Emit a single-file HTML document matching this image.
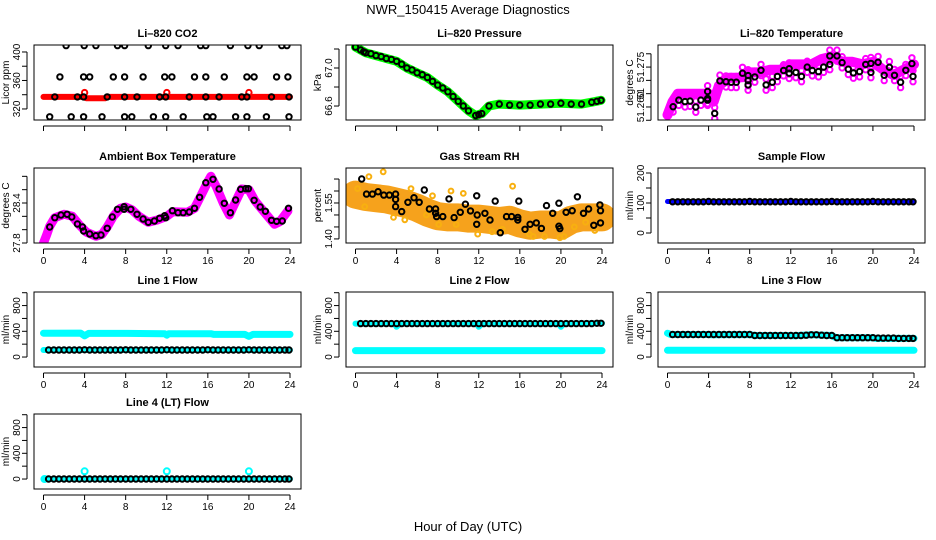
<!DOCTYPE html>
<html><head><meta charset="utf-8"><style>
html,body{margin:0;padding:0;background:#fff;}
svg{display:block;font-family:"Liberation Sans",sans-serif;}
</style></head><body>
<svg id="chart" width="936" height="540" viewBox="0 0 936 540" xmlns="http://www.w3.org/2000/svg">
<text x="468" y="14" text-anchor="middle" font-size="13">NWR_150415  Average Diagnostics</text>
<text x="468" y="531" text-anchor="middle" font-size="13">Hour of Day (UTC)</text>
</svg>
<script>
// ---------- data ----------
const flowHours = [0.5,1,1.5,2,2.5,3,3.5,4,4.5,5,5.5,6,6.5,7,7.5,8,8.5,9,9.5,10,10.5,11,11.5,12,12.5,13,13.5,14,14.5,15,15.5,16,16.5,17,17.5,18,18.5,19,19.5,20,20.5,21,21.5,22,22.5,23,23.5,23.9];
// CO2
const co2BandH = [0,3.8,4.2,6,6.3,24];
const co2BandV = [337,337,335,335,337,337];
const co2RedH = [4,12,20];
const co2RedV = [343,343,343];
const co2BlkH = [2.2,3.96,5.1,7.2,7.9,10.2,11.9,13.1,15.3,15.8,18.2,19.9,21,23.2,23.7, 1.6,3.9,4.5,6.8,7.9,9.7,11.8,12.5,14.7,15.8,17.6,19.8,20.5,22.7,23.8, 1.1,3.3,3.9,6.2,7.9,9.1,11.3,11.9,14.2,15.8,17.1,19.3,19.8,22.2,23.9, 0.6,2.7,3.9,5.7,7.9,8.6,10.7,11.9,13.6,15.9,16.5,18.7,19.8,21.7,23.9];
const co2BlkV = [409,409,409,409,409,409,409,409,409,409,409,409,409,409,409, 365,365,365,365,365,365,365,365,365,365,365,365,365,365,365, 337,337,337,337,337,337,337,337,337,337,337,337,337,337,337, 309,309,309,309,309,309,309,309,309,309,309,309,309,309,309];
// Pressure
const prH = [0,0.5,1,2,3,4,5,6,7,8,9,10,11,11.7,12.3,13,14,16,18,20,22,23,23.9];
const prV = [67.22,67.19,67.16,67.13,67.1,67.07,67.0,66.95,66.9,66.82,66.75,66.65,66.55,66.5,66.52,66.6,66.62,66.61,66.62,66.63,66.62,66.64,66.66];
const prBlkH = [0.8,1.5,2.5,3.5,4.5,5.5,6.5,7.5,8.5,9.5,10.5,12,15,17,19,21,23.5];
const prBlkV = [67.17,67.15,67.12,67.09,67.04,66.98,66.93,66.86,66.79,66.7,66.6,66.51,66.61,66.61,66.62,66.62,66.65];
// Li-820 temperature
const tBandH = [0,0.5,1,2,3,4,4.5,5,6,7,8,9,10,11,12,13,14,15,16,17,18,19,20,21,22,23,24];
const tBandV = [51.257,51.262,51.265,51.265,51.265,51.265,51.262,51.268,51.271,51.271,51.273,51.273,51.274,51.274,51.276,51.276,51.276,51.278,51.279,51.277,51.277,51.276,51.277,51.274,51.272,51.274,51.276];
const tBlkH = [0.55,1.1,1.7,2.2,2.76,3.25,3.9,3.9,3.9,4.6,5.1,5.7,6.2,6.7,7.3,7.85,7.85,7.85,8.5,9.1,9.6,10.2,10.7,11.3,11.85,11.85,12.5,13.05,13.6,14.1,14.7,15.2,15.8,15.8,16.5,17.0,17.6,18.1,18.7,19.3,19.8,19.8,20.5,21.1,21.6,22.1,22.7,23.2,23.8,23.9];
const tBlkV = [51.2601,51.2626,51.262,51.2622,51.26,51.2626,51.2626,51.2658,51.2632,51.2576,51.2698,51.2695,51.2693,51.2693,51.2727,51.2718,51.2683,51.27,51.2713,51.2738,51.2683,51.2693,51.2715,51.2737,51.2744,51.2727,51.273,51.2715,51.275,51.2737,51.2733,51.275,51.276,51.2792,51.2792,51.2767,51.2742,51.2728,51.2733,51.276,51.2764,51.273,51.2768,51.2719,51.2749,51.2719,51.2693,51.2738,51.2763,51.2715];
// Ambient box temperature
const aBandH = [0,0.3,0.6,1.1,2,2.8,3.5,4.2,5.1,5.7,6.2,6.8,7.5,8,8.6,9.3,10.2,11,12,12.6,14,14.7,15.3,16,16.3,16.8,17.5,18.1,18.7,19.3,20,20.6,21.3,22,22.5,23,23.8];
const aBandV = [27.8,27.92,28.05,28.18,28.23,28.2,28.07,27.96,27.9,27.93,28.04,28.2,28.32,28.34,28.3,28.2,28.11,28.14,28.2,28.27,28.26,28.32,28.5,28.72,28.8,28.65,28.4,28.22,28.42,28.61,28.6,28.43,28.3,28.17,28.08,28.12,28.28];
const aBlkH = [0.6,1.1,1.7,2.3,2.76,3.3,3.8,3.9,4.5,5.1,5.6,6.2,6.7,7.2,7.85,7.85,8.5,9.1,9.7,10.2,10.8,11.3,11.8,11.9,12.55,13.1,13.6,14.2,14.7,15.2,15.8,16.5,17.1,17.6,18.2,18.7,19.2,19.7,19.95,20.5,21.1,21.6,22.2,22.7,23.25,23.85];
const aBlkV = [28.04,28.18,28.22,28.23,28.19,28.085,28.04,27.98,27.935,27.91,27.92,28.02,28.19,28.305,28.345,28.305,28.305,28.23,28.16,28.11,28.13,28.17,28.21,28.18,28.285,28.255,28.255,28.265,28.32,28.485,28.705,28.755,28.61,28.395,28.255,28.445,28.605,28.615,28.615,28.44,28.34,28.275,28.14,28.125,28.13,28.32];
// Gas stream RH
const rhBandH = [0,1,2,3,4,5,6,7,8,9,10,11,12,13,14,15,16,17,18,19,20,21,22,23,24];
const rhBandV = [1.585,1.575,1.57,1.565,1.555,1.545,1.53,1.51,1.495,1.49,1.49,1.485,1.485,1.48,1.475,1.48,1.465,1.455,1.46,1.46,1.455,1.48,1.49,1.49,1.49];
const rhOutH = [0.2,0.9,1.3,2.7,3.5,3.7,4.8,5.4,6.9,7.5,8.1,9.3,9.8,10.5,11.9,13.3,14.3,15.3,16.9,17.3,18.4,19.9,20.3,21.3,22.4,23.3];
const rhOutV = [1.61,1.535,1.66,1.68,1.59,1.49,1.48,1.61,1.5,1.58,1.46,1.6,1.46,1.59,1.42,1.43,1.44,1.62,1.42,1.41,1.41,1.405,1.41,1.45,1.47,1.435];
const rhBlkH = [0.6,1.07,1.65,2.2,2.76,3.3,3.9,3.9,3.9,4.5,5.1,5.7,6.2,6.7,7.2,7.8,7.8,7.9,8.5,9.1,9.6,10.2,10.7,11.2,11.8,11.85,11.8,12.6,13.1,13.6,14.1,14.7,15.2,15.8,15.8,15.9,16.5,17.0,17.6,18.1,18.6,19.2,19.8,19.8,19.9,20.5,21.1,21.6,22.2,22.7,23.2,23.8,23.85,23.85];
const rhBlkV = [1.65,1.587,1.587,1.597,1.583,1.583,1.587,1.565,1.535,1.514,1.553,1.572,1.553,1.604,1.525,1.525,1.507,1.493,1.493,1.567,1.489,1.511,1.545,1.517,1.58,1.5,1.461,1.507,1.479,1.558,1.426,1.493,1.493,1.49,1.479,1.558,1.44,1.461,1.467,1.444,1.539,1.507,1.549,1.453,1.443,1.511,1.518,1.576,1.507,1.525,1.457,1.542,1.518,1.467];
// Sample flow
const sfBandH = [0,24];
const sfBandV = [105,105];
const sfBlkV = [104,104,104,104,104,104,104,105,104,104,104,104,104,104,104,105,104,104,104,104,104,104,104,105,104,104,104,104,104,104,104,105,104,104,104,104,104,104,104,105,104,104,104,104,104,104,104,104];
// Line 1
const l1HiH = [0,3.6,4,4.4,8,11.8,12,12.2,16.3,16.6,19.6,20,20.4,24];
const l1HiV = [370,372,330,368,368,362,340,362,362,352,352,320,352,352];
const l1LoH = [0,24];
const l1LoV = [110,110];
const l1BlkV = [110,110,110,110,110,110,110,112,110,110,110,110,110,110,110,112,110,110,110,110,110,110,110,112,110,110,110,110,110,110,110,112,110,110,110,110,110,110,110,112,110,110,110,110,110,110,110,110];
// Line 2
const l2HiH = [0,3.8,4,4.3,11.8,12,12.3,19.8,20,20.3,24];
const l2HiV = [520,520,470,520,520,470,520,520,470,520,525];
const l2LoH = [0,24];
const l2LoV = [100,100];
const l2BlkV = [520,520,520,520,520,520,520,520,520,520,520,520,520,520,520,520,520,520,520,520,520,520,520,520,520,520,520,520,520,520,520,520,520,520,520,520,520,520,520,520,520,520,520,520,520,520,525,525];
// Line 3
const l3HiH = [0,0.3,4,4.3,8,8.5,12,12.3,14,16,16.4,20,20.3,24];
const l3HiV = [370,350,350,345,350,335,335,330,345,335,300,300,290,290];
const l3LoH = [0,24];
const l3LoV = [105,105];
const l3BlkV = [350,350,350,350,350,350,350,350,350,350,350,350,350,350,350,350,335,335,335,335,335,335,335,335,335,335,340,345,345,340,335,335,300,300,300,300,300,300,300,300,295,295,295,295,290,290,290,290];
// Line 4
const l4BandH = [0,24];
const l4BandV = [0,0];
const l4CyanH = [0.1,4,12,20];
const l4CyanV = [0,120,120,120];
const l4BlkV = [0,0,0,0,0,0,0,0,0,0,0,0,0,0,0,0,0,0,0,0,0,0,0,0,0,0,0,0,0,0,0,0,0,0,0,0,0,0,0,0,0,0,0,0,0,0,0,0];

// ---------- drawing ----------
const svg = document.getElementById('chart');
const NS = 'http://www.w3.org/2000/svg';
const colLeft = [34, 346, 658];
const rowTop = [45, 168, 292, 414];
const PW = 267, PH = 75;
const xTicks = [0,4,8,12,16,20,24];

function mk(tag, parent) { const e = document.createElementNS(NS, tag); parent.appendChild(e); return e; }

function panel(c, r, name, title, ylab, ylim, yticks, ylabels, showX) {
  const L = colLeft[c], T = rowTop[r];
  const g = mk('g', svg);
  
  
  const xs = h => L + 9.5 + h * (246.5 / 24);
  const ys = v => T + PH - (v - ylim[0]) / (ylim[1] - ylim[0]) * PH;
  const t = mk('text', g);
  t.setAttribute('x', L + PW / 2); t.setAttribute('y', T - 8);
  t.setAttribute('text-anchor', 'middle'); t.setAttribute('font-size', '11'); t.setAttribute('font-weight', 'bold');
  t.textContent = title;
  
  
  const yt = mk('text', g);
  yt.setAttribute('transform', 'translate(' + (L - 25) + ',' + (T + PH / 2) + ') rotate(-90)');
  yt.setAttribute('text-anchor', 'middle'); yt.setAttribute('font-size', '10');
  yt.textContent = ylab;
  
  
  const ya = mk('line', g);
  ya.setAttribute('x1', L - 7); ya.setAttribute('x2', L - 7);
  ya.setAttribute('y1', ys(yticks[0])); ya.setAttribute('y2', ys(yticks[yticks.length - 1]));
  ya.setAttribute('stroke', '#000');
  
  
  yticks.forEach((v, i) => {
    const tk = mk('line', g);
    tk.setAttribute('x1', L - 12); tk.setAttribute('x2', L - 7);
    tk.setAttribute('y1', ys(v)); tk.setAttribute('y2', ys(v)); tk.setAttribute('stroke', '#000');
    
    
    if (ylabels[i]) {
      const lb = mk('text', g);
      lb.setAttribute('transform', 'translate(' + (L - 14) + ',' + ys(v) + ') rotate(-90)');
      lb.setAttribute('text-anchor', 'middle'); lb.setAttribute('font-size', '10');
      lb.textContent = ylabels[i];
      
      
    }
  });
  const xa = mk('line', g);
  xa.setAttribute('x1', xs(0)); xa.setAttribute('x2', xs(24));
  xa.setAttribute('y1', T + PH + 6); xa.setAttribute('y2', T + PH + 6); xa.setAttribute('stroke', '#000');
  
  
  xTicks.forEach(h => {
    const tk = mk('line', g);
    tk.setAttribute('x1', xs(h)); tk.setAttribute('x2', xs(h));
    tk.setAttribute('y1', T + PH + 6); tk.setAttribute('y2', T + PH + 11); tk.setAttribute('stroke', '#000');
    
    
    if (showX) {
      const lb = mk('text', g);
      lb.setAttribute('x', xs(h)); lb.setAttribute('y', T + PH + 21);
      lb.setAttribute('text-anchor', 'middle'); lb.setAttribute('font-size', '10');
      lb.textContent = String(h);
      
      
    }
  });
  const plot = mk('g', g);
  const cp = 'clip' + c + r;
  const cl = mk('clipPath', g); cl.setAttribute('id', cp);
  const cr = mk('rect', cl);
  cr.setAttribute('x', L); cr.setAttribute('y', T); cr.setAttribute('width', PW); cr.setAttribute('height', PH);
  plot.setAttribute('clip-path', 'url(#' + cp + ')');
  const box = mk('rect', g);
  box.setAttribute('x', L); box.setAttribute('y', T); box.setAttribute('width', PW); box.setAttribute('height', PH);
  box.setAttribute('fill', 'none'); box.setAttribute('stroke', '#000');
  
  
  return {
    band(H, V, color, w, nm) {
      const p = mk('polyline', plot);
      p.setAttribute('points', H.map((h, i) => xs(h).toFixed(1) + ',' + ys(V[i]).toFixed(1)).join(' '));
      p.setAttribute('fill', 'none'); p.setAttribute('stroke', color); p.setAttribute('stroke-width', w);
      p.setAttribute('stroke-linejoin', 'round'); p.setAttribute('stroke-linecap', 'round');
      
      
    },
    pts(H, V, color, nm, rad, sw) {
      H.forEach((h, i) => {
        const ci = mk('circle', plot);
        ci.setAttribute('cx', xs(h).toFixed(1)); ci.setAttribute('cy', ys(V[i]).toFixed(1));
        ci.setAttribute('r', rad || 2.7); ci.setAttribute('fill', 'none');
        ci.setAttribute('stroke', color); ci.setAttribute('stroke-width', sw || 2);
        
        
      });
    }
  };
}

const flowTicks = [0,200,400,600,800,1000];
const flowLabels = ['0','','400','','800',''];
const flowLim = [-155, 1011];

let p;
p = panel(0,0,'co2','Li\u2013820 CO2','Licor ppm',[304.5,409.8],[320,340,360,380,400],['320','','360','','400'],false);
p.band(co2BandH, co2BandV, '#ff0000', 6, 'co2-red-band');
p.pts(co2RedH, co2RedV, '#ff0000', 'co2-red-point');
p.pts(co2BlkH, co2BlkV, '#000', 'co2-black-point');

p = panel(1,0,'pressure','Li\u2013820 Pressure','kPa',[66.453,67.242],[66.6,66.8,67.0,67.2],['66.6','','67.0',''],false);
p.band(prH, prV, '#00ff00', 9, 'pressure-green-band');
p.pts(prH.concat(prBlkH), prV.concat(prBlkV), '#000', 'pressure-black-point');

p = panel(2,0,'li820-temp','Li\u2013820 Temperature','degrees C',[51.2551,51.2833],[51.255,51.26,51.265,51.27,51.275,51.28],['','51.260','51','','51.275',''],false);
p.band(tBandH, tBandV, '#ff00ff', 10, 'li820-temp-magenta-band');
p.pts(tBlkH, tBlkV.map(v => v + 0.0022), '#ff00ff', 'li820-temp-magenta-point');
p.pts(tBlkH, tBlkV.map(v => v - 0.002), '#ff00ff', 'li820-temp-magenta-point');
p.pts(tBlkH, tBlkV, '#000', 'li820-temp-black-point');

p = panel(0,1,'ambient-temp','Ambient Box Temperature','degrees C',[27.8,28.925],[27.8,28.0,28.2,28.4,28.6,28.8],['27.8','','','28.4','',''],true);
p.band(aBandH, aBandV, '#ff00ff', 9, 'ambient-magenta-band');
p.pts(aBlkH, aBlkV, '#000', 'ambient-black-point');

p = panel(1,1,'gas-rh','Gas Stream RH','percent',[1.383,1.696],[1.40,1.45,1.50,1.55,1.60,1.65],['1.40','','','1.55','',''],true);
p.band(rhBandH, rhBandV, '#f6a21c', 28, 'rh-orange-band');
p.pts(rhOutH, rhOutV, '#f8b010', 'rh-orange-point', 2.4, 2);
p.pts(rhBlkH, rhBlkV, '#000', 'rh-black-point');

p = panel(2,1,'sample-flow','Sample Flow','ml/min',[-33.3,216.7],[0,50,100,150,200],['0','','100','','200'],true);
p.band(sfBandH, sfBandV, '#0000ff', 5, 'sample-flow-blue-band');
p.pts(flowHours, sfBlkV, '#000', 'sample-flow-black-point');

p = panel(0,2,'line1-flow','Line 1 Flow','ml/min',flowLim,flowTicks,flowLabels,true);
p.band(l1HiH, l1HiV, '#00ffff', 7, 'line1-cyan-high-band');
p.band(l1LoH, l1LoV, '#00ffff', 6, 'line1-cyan-low-band');
p.pts(flowHours, l1BlkV, '#000', 'line1-black-point');

p = panel(1,2,'line2-flow','Line 2 Flow','ml/min',flowLim,flowTicks,flowLabels,true);
p.band(l2HiH, l2HiV, '#00ffff', 6, 'line2-cyan-high-band');
p.band(l2LoH, l2LoV, '#00ffff', 7, 'line2-cyan-low-band');
p.pts(flowHours, l2BlkV, '#000', 'line2-black-point');

p = panel(2,2,'line3-flow','Line 3 Flow','ml/min',flowLim,flowTicks,flowLabels,true);
p.band(l3HiH, l3HiV, '#00ffff', 7, 'line3-cyan-high-band');
p.band(l3LoH, l3LoV, '#00ffff', 7, 'line3-cyan-low-band');
p.pts(flowHours, l3BlkV, '#000', 'line3-black-point');

p = panel(0,3,'line4-flow','Line 4 (LT) Flow','ml/min',flowLim,flowTicks,flowLabels,true);
p.band(l4BandH, l4BandV, '#00ffff', 6, 'line4-cyan-band');
p.pts(l4CyanH, l4CyanV, '#00ffff', 'line4-cyan-point', 3, 2);
p.pts(flowHours, l4BlkV, '#000', 'line4-black-point');
</script>
</body></html>
